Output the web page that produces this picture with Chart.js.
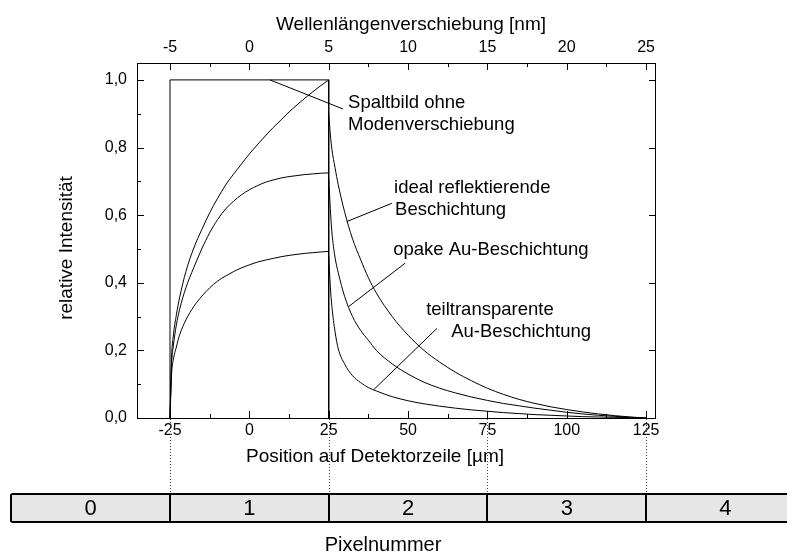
<!DOCTYPE html>
<html><head><meta charset="utf-8">
<script src="https://cdn.jsdelivr.net/npm/chart.js@4/dist/chart.umd.min.js"></script>
<style>html,body{margin:0;padding:0;background:#fff;overflow:hidden}</style>
</head><body>
<canvas id="c" width="787" height="553" style="display:block;width:787px;height:553px"></canvas>
<script>
// ---- data ----
const riseX = [-25,-24.5,-24,-23,-22,-20,-17.5,-15,-12.5,-10,-7.5,-5,-2.5,0,2.5,5,7.5,10,12.5,15,17.5,20,22.5,25];
const idealRise = [0,0.18,0.24,0.305,0.355,0.433,0.503,0.557,0.607,0.65,0.689,0.721,0.751,0.781,0.808,0.834,0.859,0.882,0.905,0.926,0.946,0.965,0.983,1.0];
const opakeRise = [0,0.16,0.21,0.275,0.32,0.385,0.445,0.50,0.548,0.587,0.618,0.641,0.66,0.675,0.687,0.697,0.704,0.71,0.714,0.717,0.72,0.722,0.724,0.725];
const teilRise  = [0,0.13,0.17,0.21,0.245,0.29,0.33,0.36,0.385,0.405,0.42,0.433,0.444,0.453,0.461,0.467,0.472,0.477,0.481,0.484,0.487,0.489,0.491,0.493];
const decayX = [25,25.5,26,27,28,30,32.5,35,37.5,40,45,50,55,60,65,70,75,80,85,90,95,100,105,110,115,120,125];
const idealDecay = [0.90,0.84,0.795,0.74,0.69,0.61,0.53,0.47,0.415,0.37,0.30,0.245,0.20,0.165,0.135,0.11,0.088,0.07,0.055,0.043,0.033,0.025,0.018,0.012,0.007,0.003,0];
const opakeDecay = [0.71,0.62,0.55,0.475,0.43,0.36,0.30,0.26,0.23,0.20,0.16,0.13,0.106,0.088,0.074,0.062,0.052,0.043,0.036,0.029,0.023,0.017,0.012,0.008,0.005,0.002,0];
const teilDecay  = [0.48,0.39,0.33,0.255,0.205,0.16,0.125,0.105,0.09,0.08,0.063,0.051,0.042,0.035,0.029,0.024,0.02,0.016,0.013,0.01,0.008,0.006,0.004,0.003,0.002,0.001,0];
const slitX = [-25,-25,25,25];
const slitY = [0,1,1,0];
const positionTicks = [-25,0,25,50,75,100,125];      // µm
const wavelengthTicks = [-5,0,5,10,15,20,25];        // nm
const intensityTicks = [0,0.2,0.4,0.6,0.8,1.0];
const pixelNumbers = [0,1,2,3,4];
const pixelEdges = [-75,-25,25,75,125,175];           // µm
const UM_PER_NM = 5;

// annotation texts (anchor in data units)
const annotations = [
  {text:'Spaltbild ohne', x:31.1, y:0.932},
  {text:'Modenverschiebung', x:31.1, y:0.867},
  {text:'ideal reflektierende', x:45.6, y:0.680},
  {text:'Beschichtung', x:45.9, y:0.615},
  {text:'opake Au-Beschichtung', x:45.3, y:0.497},
  {text:'teiltransparente', x:55.7, y:0.320},
  {text:'Au-Beschichtung', x:63.6, y:0.254}
];
const leaders = [
  [6.5,1.0,29.5,0.914],
  [30.7,0.581,44.9,0.635],
  [31.2,0.329,49.1,0.458],
  [39.1,0.083,59.1,0.265]
];

const X_MIN = -35.4, X_MAX = 127.8, Y_MAX = 1.05;
const F = "'Liberation Sans', Arial, sans-serif";
const pts = (xs, ys) => xs.map((x,i)=>({x:x, y:ys[i]}));
const curve = (xs, ys) => ({data: pts(xs, ys), borderColor:'#000', borderWidth:1, pointRadius:0, fill:false, cubicInterpolationMode:'monotone'});

const decor = {
  id:'decor',
  afterDraw(chart){
    const ctx = chart.ctx, a = chart.chartArea;
    const sx = chart.scales.x, sx2 = chart.scales.x2, sy = chart.scales.y;
    ctx.save();
    ctx.strokeStyle = '#000'; ctx.lineWidth = 1;
    // frame
    ctx.strokeRect(Math.round(a.left)+0.5, Math.round(a.top)+0.5, Math.round(a.right-a.left), Math.round(a.bottom-a.top));
    const line = (x1,y1,x2,y2)=>{ctx.beginPath();ctx.moveTo(x1,y1);ctx.lineTo(x2,y2);ctx.stroke();};
    // bottom & top ticks (inward)
    const stepX = positionTicks[1]-positionTicks[0];
    for (let v = positionTicks[0]; v <= positionTicks[positionTicks.length-1]+1e-9; v += stepX/2) {
      const major = positionTicks.some(t=>Math.abs(t-v)<1e-9);
      const px = Math.round(sx.getPixelForValue(v))+0.5;
      line(px, a.bottom, px, a.bottom-(major?7:4));
    }
    const stepN = wavelengthTicks[1]-wavelengthTicks[0];
    for (let v = wavelengthTicks[0]; v <= wavelengthTicks[wavelengthTicks.length-1]+1e-9; v += stepN/2) {
      const major = wavelengthTicks.some(t=>Math.abs(t-v)<1e-9);
      const px = Math.round(sx2.getPixelForValue(v))+0.5;
      line(px, a.top, px, a.top+(major?7:4));
    }
    const stepY = intensityTicks[1]-intensityTicks[0];
    for (let v = 0; v <= 1.0001; v += stepY/2) {
      const major = intensityTicks.some(t=>Math.abs(t-v)<1e-6);
      const py = Math.round(sy.getPixelForValue(v))+0.5;
      line(a.left, py, a.left+(major?7:4), py);
      if (major) line(a.right, py, a.right-6, py);
    }
    // leader lines
    leaders.forEach(l=>line(sx.getPixelForValue(l[0]), sy.getPixelForValue(l[1]), sx.getPixelForValue(l[2]), sy.getPixelForValue(l[3])));
    // annotation texts
    ctx.fillStyle = '#000';
    ctx.font = '18.5px ' + F; ctx.textBaseline = 'middle'; ctx.textAlign = 'left';
    annotations.forEach(t=>ctx.fillText(t.text, sx.getPixelForValue(t.x), sy.getPixelForValue(t.y)));
    // axis titles
    ctx.font = '19px ' + F; ctx.textAlign = 'center';
    ctx.fillText('Wellenlängenverschiebung [nm]', 411, 25);
    ctx.fillText('Position auf Detektorzeile [µm]', 375, 457);
    ctx.save(); ctx.translate(67, 248); ctx.rotate(-Math.PI/2); ctx.fillText('relative Intensität', 0, 0); ctx.restore();
    ctx.font = '20px ' + F;
    ctx.fillText('Pixelnummer', 383, 545);
    // pixel bar
    const barTop = 494, barBot = 522;
    const x0 = sx.getPixelForValue(pixelEdges[0]), x1 = sx.getPixelForValue(pixelEdges[pixelEdges.length-1]);
    ctx.fillStyle = '#e6e6e6'; ctx.fillRect(x0, barTop, x1-x0, barBot-barTop);
    ctx.lineWidth = 2; ctx.strokeStyle = '#000';
    line(x0, barTop, x1, barTop); line(x0, barBot, x1, barBot);
    pixelEdges.forEach(e=>{const px = Math.round(sx.getPixelForValue(e)); line(px, barTop, px, barBot);});
    ctx.fillStyle = '#000'; ctx.font = '22px ' + F; ctx.textAlign = 'center'; ctx.textBaseline = 'middle';
    pixelNumbers.forEach((n,i)=>ctx.fillText(String(n), sx.getPixelForValue((pixelEdges[i]+pixelEdges[i+1])/2), (barTop+barBot)/2+1));
    // dotted guide lines
    ctx.lineWidth = 1; ctx.strokeStyle = '#444'; ctx.setLineDash([1,2]);
    pixelEdges.forEach(e=>{ if (e>=X_MIN && e<=X_MAX){ const px = Math.round(sx.getPixelForValue(e))+0.5; line(px, a.bottom+1, px, barTop-1);} });
    ctx.restore();
  }
};

new Chart(document.getElementById('c'), {
  type:'line',
  data:{datasets:[
    {data: pts(slitX, slitY), borderColor:'#000', borderWidth:1, pointRadius:0, fill:false, tension:0},
    curve(riseX, idealRise), curve(decayX, idealDecay),
    curve(riseX, opakeRise), curve(decayX, opakeDecay),
    curve(riseX, teilRise), curve(decayX, teilDecay)
  ]},
  options:{
    responsive:false, animation:false, devicePixelRatio:1,
    layout:{padding:{left:0, right:132, top:0, bottom:0}},
    plugins:{legend:{display:false}, tooltip:{enabled:false}},
    scales:{
      x:{type:'linear', position:'bottom', min:X_MIN, max:X_MAX,
         afterBuildTicks: s=>{ s.ticks = positionTicks.map(v=>({value:v})); },
         afterFit: s=>{ s.height = 135; },
         grid:{display:false, drawTicks:false}, border:{display:false},
         ticks:{color:'#000', font:{family:F, size:16}, padding:3, maxRotation:0, autoSkip:false, callback:v=>String(v)}},
      x2:{type:'linear', position:'top', min:X_MIN/UM_PER_NM, max:X_MAX/UM_PER_NM,
         afterBuildTicks: s=>{ s.ticks = wavelengthTicks.map(v=>({value:v})); },
         afterFit: s=>{ s.height = 63; },
         grid:{display:false, drawTicks:false}, border:{display:false},
         ticks:{color:'#000', font:{family:F, size:16}, padding:6, maxRotation:0, autoSkip:false, callback:v=>String(v)}},
      y:{type:'linear', position:'left', min:0, max:Y_MAX,
         afterBuildTicks: s=>{ s.ticks = intensityTicks.map(v=>({value:v})); },
         afterFit: s=>{ s.width = 137; },
         grid:{display:false, drawTicks:false}, border:{display:false},
         ticks:{color:'#000', font:{family:F, size:16}, padding:10, callback:v=>v.toFixed(1).replace('.', ',')}}
    }
  },
  plugins:[decor]
});
</script>
</body></html>
